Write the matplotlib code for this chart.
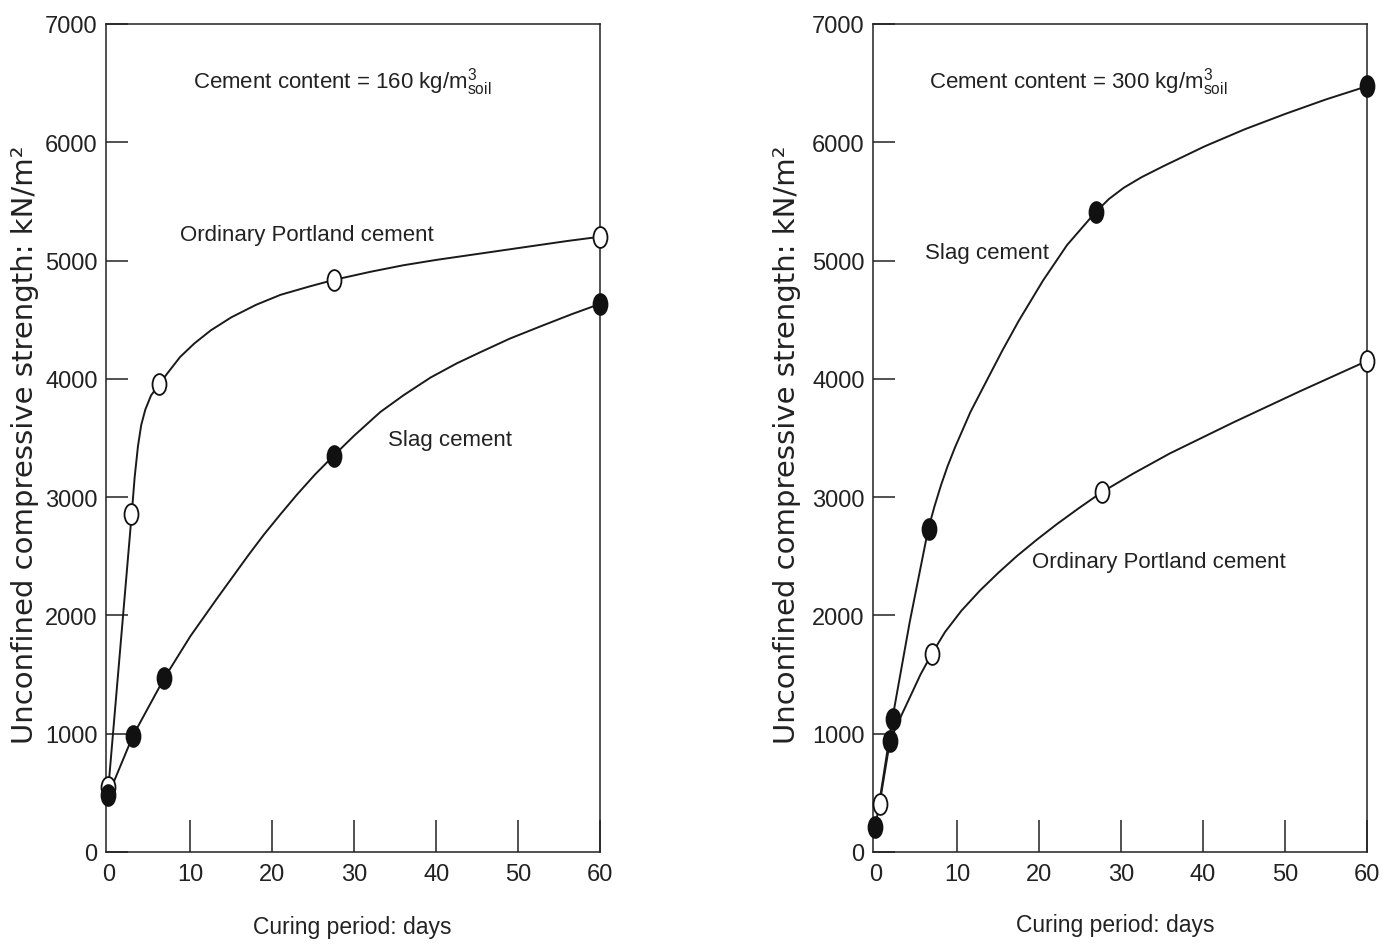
import matplotlib
matplotlib.use("Agg")
import matplotlib.pyplot as plt
from matplotlib.path import Path
from matplotlib.transforms import Affine2D

plt.rcParams['font.family'] = ['Liberation Sans', 'DejaVu Sans']
plt.rcParams['mathtext.fontset'] = 'custom'
plt.rcParams['mathtext.rm'] = 'Liberation Sans'
plt.rcParams['mathtext.it'] = 'Liberation Sans'
plt.rcParams['mathtext.bf'] = 'Liberation Sans'

# ---- data ----
days_ticks = [0, 10, 20, 30, 40, 50, 60]
ucs_ticks = [0, 1000, 2000, 3000, 4000, 5000, 6000, 7000]

# left panel: 160 kg/m3 (measured points)
opc160_x = [0, 2.8, 6.2, 27.5, 60]
opc160_y = [551, 2859, 3954, 4836, 5201]
slag160_x = [0, 3.0, 6.8, 27.5, 60]
slag160_y = [484, 984, 1468, 3351, 4633]

# hand drawn curves
opc160_cx = [0, 2.84, 3.2, 3.6, 4.0, 4.5, 5.2, 6.22, 7.12, 8.75, 10.5, 12.5, 15, 18, 21,
             24.5, 27.5, 32, 36, 40, 44, 48, 52, 56, 60]
opc160_cy = [551, 2859, 3170, 3430, 3610, 3740, 3860, 3954, 4040, 4185, 4300, 4410, 4520,
             4625, 4710, 4780, 4836, 4905, 4960, 5005, 5045, 5085, 5125, 5165, 5201]
slag160_cx = [0, 3.0, 6.8, 10.0, 13.2, 17.1, 19, 21, 23, 25.2, 27.5, 30, 33.2, 36, 39.3,
              42.5, 45.4, 49, 52.8, 56.5, 60]
slag160_cy = [484, 984, 1468, 1824, 2138, 2511, 2685, 2855, 3020, 3190, 3351, 3520, 3720,
              3860, 4010, 4130, 4225, 4340, 4445, 4545, 4633]

# right panel: 300 kg/m3 (measured points)
opc300_x = [0.5, 6.9, 27.6, 60]
opc300_y = [406, 1674, 3041, 4151]
slag300_x = [0, 1.8, 2.1, 6.5, 26.9, 60]
slag300_y = [209, 941, 1124, 2731, 5408, 6473]

opc300_cx = [0.5, 1.78, 3, 4.22, 5.5, 6.87, 8.5, 10.5, 12.76, 15, 17.24, 19.7, 22.12, 24.8,
             27.62, 31.5, 35.96, 43.65, 51.83, 60]
opc300_cy = [406, 941, 1130, 1310, 1500, 1674, 1860, 2040, 2210, 2360, 2500, 2640, 2770,
             2905, 3041, 3200, 3370, 3630, 3895, 4151]
slag300_cx = [0, 2.06, 4.2, 6.45, 7.2, 8, 8.8, 9.71, 11.6, 13.62, 15.5, 17.49, 20.45,
              23.38, 26.86, 28.5, 30.31, 32.5, 35.22, 40.18, 45.1, 50.05, 55, 60]
slag300_cy = [209, 1124, 1950, 2731, 2920, 3100, 3260, 3420, 3720, 3990, 4240, 4490, 4830,
              5130, 5408, 5520, 5615, 5705, 5800, 5965, 6110, 6240, 6362, 6473]

# tall ellipse marker
ellipse = Path.unit_circle().transformed(Affine2D().scale(0.67, 1.0))
ink = '#222222'

fig = plt.figure(figsize=(13.93, 9.45), dpi=100)
ax1 = fig.add_axes([0.0761, 0.0974, 0.3546, 0.8762])
ax2 = fig.add_axes([0.6267, 0.0974, 0.3546, 0.8762])


def style_axes(ax):
    ax.set_xlim(-0.3, 60)
    ax.set_ylim(0, 7000)
    ax.set_xticks(days_ticks)
    ax.set_yticks(ucs_ticks)
    ax.set_xticklabels([str(d) for d in days_ticks])
    ax.set_yticklabels([str(u) for u in ucs_ticks])
    for s in ax.spines.values():
        s.set_linewidth(1.1)
        s.set_color(ink)
    ax.tick_params(axis='x', direction='in', length=23, width=1.1, pad=8,
                   labelsize=17, colors=ink)
    ax.tick_params(axis='y', direction='in', length=16, width=1.1, pad=6,
                   labelsize=17, colors=ink)
    # tick at 0 days sits on the spine
    ax.xaxis.get_major_ticks()[0].tick1line.set_visible(False)
    ax.set_xlabel('Curing period: days', fontsize=16.5, color=ink, va='center')
    ax.set_ylabel('Unconfined compressive strength: kN/m²', family='DejaVu Sans',
                  fontsize=21, color=ink, va='center')


def draw_series(ax, cx, cy, x, y, filled):
    ax.plot(cx, cy, color='#1a1a1a', lw=1.4, clip_on=False, zorder=2)
    ax.plot(x, y, ls='none', marker=ellipse, ms=15, mew=1.3,
            mec='#111111', mfc='#111111' if filled else 'white',
            clip_on=False, zorder=3)


style_axes(ax1)
draw_series(ax1, opc160_cx, opc160_cy, opc160_x, opc160_y, False)
draw_series(ax1, slag160_cx, slag160_cy, slag160_x, slag160_y, True)
ax1.yaxis.set_label_coords(-0.164, 0.493)
ax1.xaxis.set_label_coords(0.498, -0.09)
ax1.text(28.6, 6520, r'Cement content = 160 kg/m$^{3}_{\mathrm{soil}}$',
         fontsize=16, ha='center', va='center', color=ink)
ax1.text(8.7, 5224, 'Ordinary Portland cement', fontsize=16, ha='left',
         va='center', color=ink)
ax1.text(34.1, 3491, 'Slag cement', fontsize=16, ha='left', va='center',
         color=ink)

style_axes(ax2)
draw_series(ax2, opc300_cx, opc300_cy, opc300_x, opc300_y, False)
draw_series(ax2, slag300_cx, slag300_cy, slag300_x, slag300_y, True)
ax2.yaxis.set_label_coords(-0.174, 0.493)
ax2.xaxis.set_label_coords(0.49, -0.088)
ax2.text(24.8, 6520, r'Cement content = 300 kg/m$^{3}_{\mathrm{soil}}$',
         fontsize=16, ha='center', va='center', color=ink)
ax2.text(6.05, 5072, 'Slag cement', fontsize=16, ha='left', va='center',
         color=ink)
ax2.text(19.1, 2452, 'Ordinary Portland cement', fontsize=16, ha='left',
         va='center', color=ink)

fig.savefig('out.png', dpi=100)
plt.close(fig)
